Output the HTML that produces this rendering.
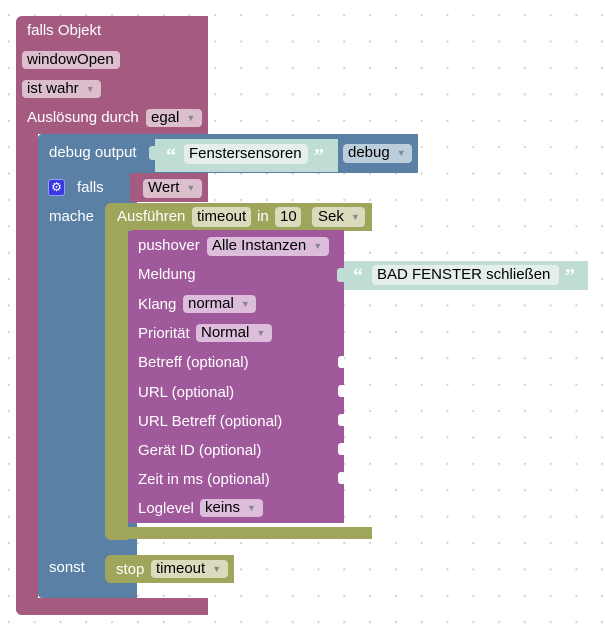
<!DOCTYPE html>
<html><head><meta charset="utf-8"><style>
body{margin:0;width:605px;height:627px;overflow:hidden;background:#fff;
background-image:radial-gradient(circle,#cfcfcf 0.9px,transparent 1.3px);background-size:25.8px 26.4px;background-position:-4px 2px;
font-family:"Liberation Sans",Arial,sans-serif;font-size:15px;}
div{position:absolute;box-sizing:border-box}
.t{color:#fff;white-space:nowrap;line-height:16px}
.f{border-radius:4px;color:#000;white-space:nowrap;line-height:18px;padding-left:5px}
.a{color:#888;font-size:9px;margin-left:7px;vertical-align:1px}
.P{background:#a55b80}.B{background:#5b80a5}.O{background:#9fa55b}.V{background:#a0599a}.G{background:#c0ddd5}
.fp{background:#dcbecd}.fv{background:#dcbddb}.fb{background:#bccddb}.fo{background:#dadbbd}.fg{background:#e4efeb}
.q{color:#fff;font-family:"Liberation Serif",serif;font-size:20px;font-weight:bold;line-height:20px}
</style></head><body>
<div class="P" style="left:16px;top:16px;width:192px;height:118px;border-radius:6px 0 0 0"></div>
<div class="P" style="left:16px;top:130px;width:22px;height:485px;border-radius:0 0 0 6px"></div>
<div class="P" style="left:16px;top:598px;width:192px;height:17px;border-radius:0 0 0 6px"></div>
<div class="t" style="left:27px;top:23px">falls Objekt</div>
<div class="f fp" style="left:22px;top:51px;width:98px;height:18px">windowOpen</div>
<div class="f fp" style="left:22px;top:80px;width:79px;height:18px">ist wahr<span class="a">▼</span></div>
<div class="t" style="left:27px;top:110px">Auslösung durch</div>
<div class="f fp" style="left:146px;top:109px;width:56px;height:18px">egal<span class="a">▼</span></div>
<div class="B" style="left:38px;top:134px;width:380px;height:39px;border-radius:4px 0 0 0"></div>
<div class="t" style="left:49px;top:145px">debug output</div>
<div class="G" style="left:155px;top:139px;width:183px;height:33px"></div>
<div class="G" style="left:149px;top:146px;width:8px;height:14px;border-radius:3px 0 0 3px"></div>
<div class="q" style="left:166px;top:146px">“</div>
<div class="f fg" style="left:184px;top:144px;width:124px;height:20px;line-height:20px;padding-left:5px">Fenstersensoren</div>
<div class="q" style="left:314px;top:146px">”</div>
<div class="f fb" style="left:343px;top:144px;width:69px;height:19px">debug<span class="a">▼</span></div>
<div class="B" style="left:38px;top:173px;width:99px;height:425px;border-radius:0 0 0 4px"></div>
<div style="left:48px;top:179px;width:17px;height:17px;background:#3939e0;border-radius:3px;border:1px solid #9999ff;color:#fff;font-size:12px;line-height:14px;text-align:center">⚙</div>
<div class="t" style="left:77px;top:180px">falls</div>
<div class="P" style="left:130px;top:173px;width:78px;height:29px"></div>
<div class="f fp" style="left:143px;top:179px;width:59px;height:19px">Wert<span class="a">▼</span></div>
<div class="t" style="left:49px;top:209px">mache</div>
<div class="t" style="left:49px;top:560px">sonst</div>
<div class="B" style="left:38px;top:540px;width:99px;height:15px"></div>
<div class="O" style="left:105px;top:203px;width:267px;height:28px;border-radius:6px 0 0 0"></div>
<div class="O" style="left:105px;top:229px;width:23px;height:311px;border-radius:0 0 0 6px"></div>
<div class="O" style="left:105px;top:527px;width:267px;height:12px;border-radius:0 0 0 6px"></div>
<div class="t" style="left:117px;top:209px">Ausführen</div>
<div class="f fo" style="left:192px;top:207px;width:59px;height:20px;line-height:20px">timeout</div>
<div class="t" style="left:257px;top:209px">in</div>
<div class="f fo" style="left:275px;top:207px;width:26px;height:20px;line-height:20px">10</div>
<div class="f fo" style="left:312px;top:207px;width:53px;height:20px;line-height:20px;padding-left:6px">Sek<span class="a">▼</span></div>
<div class="V" style="left:128px;top:230px;width:216px;height:293px;border-radius:6px 0 0 0"></div>
<div class="t" style="left:138px;top:238px">pushover</div>
<div class="f fv" style="left:207px;top:237px;width:122px;height:19px">Alle Instanzen<span class="a">▼</span></div>
<div class="t" style="left:138px;top:267px">Meldung</div>
<div class="t" style="left:138px;top:297px">Klang</div>
<div class="f fv" style="left:183px;top:295px;width:73px;height:18px">normal<span class="a">▼</span></div>
<div class="t" style="left:138px;top:326px">Priorität</div>
<div class="f fv" style="left:196px;top:324px;width:76px;height:18px">Normal<span class="a">▼</span></div>
<div class="t" style="left:138px;top:355px">Betreff (optional)</div>
<div class="t" style="left:138px;top:385px">URL (optional)</div>
<div class="t" style="left:138px;top:414px">URL Betreff (optional)</div>
<div class="t" style="left:138px;top:443px">Gerät ID (optional)</div>
<div class="t" style="left:138px;top:472px">Zeit in ms (optional)</div>
<div class="t" style="left:138px;top:501px">Loglevel</div>
<div class="f fv" style="left:200px;top:499px;width:63px;height:18px">keins<span class="a">▼</span></div>
<div style="left:338px;top:356px;width:6px;height:12px;background:#fff;border-radius:3px 0 0 3px"></div>
<div style="left:338px;top:385px;width:6px;height:12px;background:#fff;border-radius:3px 0 0 3px"></div>
<div style="left:338px;top:414px;width:6px;height:12px;background:#fff;border-radius:3px 0 0 3px"></div>
<div style="left:338px;top:443px;width:6px;height:12px;background:#fff;border-radius:3px 0 0 3px"></div>
<div style="left:338px;top:472px;width:6px;height:12px;background:#fff;border-radius:3px 0 0 3px"></div>
<div class="G" style="left:344px;top:261px;width:244px;height:29px"></div>
<div class="G" style="left:337px;top:268px;width:8px;height:14px;border-radius:3px 0 0 3px"></div>
<div class="q" style="left:353px;top:266px">“</div>
<div class="f fg" style="left:372px;top:265px;width:187px;height:20px;line-height:20px">BAD FENSTER schließen</div>
<div class="q" style="left:565px;top:266px">”</div>
<div class="O" style="left:105px;top:555px;width:129px;height:28px;border-radius:6px 0 0 6px"></div>
<div class="t" style="left:116px;top:562px">stop</div>
<div class="f fo" style="left:151px;top:560px;width:77px;height:18px">timeout<span class="a">▼</span></div>
</body></html>
